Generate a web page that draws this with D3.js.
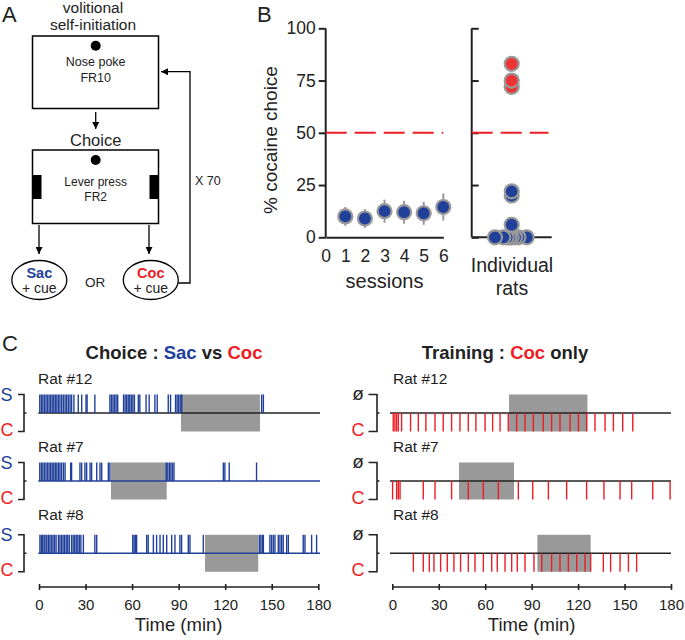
<!DOCTYPE html>
<html><head><meta charset="utf-8">
<script src="https://cdn.jsdelivr.net/npm/d3@7"></script>
<style>body{margin:0;background:#fff}svg{display:block;font-family:"Liberation Sans",Arial,sans-serif}</style>
</head><body><svg id="c" width="685" height="640"></svg>
<script>
// ---------- DATA ----------
const sessions = [1, 2, 3, 4, 5, 6];
const sessionTicks = [0, 1, 2, 3, 4, 5, 6];
const sessionMean = [10, 9, 12.5, 12, 11.5, 14.5];
const sessionErr = [4.5, 4.5, 5.5, 5.5, 5.5, 6.5];
const yTicks = [0, 25, 50, 75, 100];
const ratValues = [83, 75, 72, 22, 20, 6, 0, 0, 0, 0, 0, 0, 0, 0];
const ratJitter = [0, 0, 0, 0, 0, 0, -1, -0.5, -0.3, -0.14, 0, 0.2, 0.4, 0.9];
const threshold = 50;
const timeTicks = [0, 30, 60, 90, 120, 150, 180];

const choiceRats = ["Rat #12", "Rat #7", "Rat #8"];
const choiceRat12 = [0.5,1.5,2.5,3.5,4.5,5.5,6.5,7.5,8.5,9.5,10.5,11.5,12.5,13.5,14.6,15.7,16.8,17.8,18.9,20,21,22.5,25.3,27.5,30.3,31,36,45.7,46.7,47.7,48.7,49.7,50.7,54.5,55.5,56.5,57.5,58.5,59.5,60.5,61.5,64,65,69,71,74.7,76.2,83.3,84.8,88,89,90,91,92,143.5,144.6];
const choiceRat7 = [0.5,1.5,2.5,3.5,4.5,5.5,6.5,7.5,8.5,9.5,10.5,11.5,12.5,13.5,14.5,15.7,16.8,20.4,21,26.4,27.5,29.6,30.7,32.9,33.9,37.2,39.3,40.4,44.7,45.7,82,83,84,85,86,87,118.8,119.8,122.6,140.2];
const choiceRat8 = [0.6,1.5,2.4,3.3,3.9,5,6,7,8,9,10,11,12.5,13.5,14.5,15.5,16.5,17.5,18.5,19.5,21,22,23,24,25,26,27,28.6,36,37.2,60.4,61.3,62.2,62.9,69.4,70.4,73.7,75.8,78,80.1,82.3,85.5,87.6,90.8,91.9,96.2,97.3,105.9,142,143,144,144.6,148.8,149.9,151,152.1,154.2,155.3,156.4,157.4,159.6,160.7,170.3,171.4,175.7,178.9];
const choiceBoxes = [[91.5, 142.4], [46.4, 82.3], [107, 141.3]];

const trainRat12 = [0.6,1.7,2.8,3.9,6,11.8,16.8,21.7,27.6,32.9,38.3,43.7,49.1,54,59.9,64.8,69.6,74.9,80.3,85.7,91.1,97.5,102.9,108.3,114.8,120.2,125.5,130.9,137.4,142.8,148.8,155.3];
const trainRat7 = [0.2,2.8,3.9,5,20,27.6,38.3,49.1,58.8,68.5,81.4,90.7,100.8,112.6,125.5,136.7,147.1,154.6,168.2,179.4];
const trainRat8 = [13.6,20,23.9,26.9,31.2,35.5,39.8,44.1,49.1,53.4,58.8,64.2,67.8,72.8,77.1,80.7,85.7,91.5,96.5,102.9,108.3,113.7,119.1,124.5,128.1,136.3,141,147.1,152.5,157.8];
const trainBoxes = [[75.4, 126], [43.1, 78.6], [93.7, 128.1]];

// ---------- STYLE ----------
const BLUE = "#21409a", RED = "#ee1c24", GRAY = "#999999", INK = "#222";
const FONT = "Liberation Sans, Arial, sans-serif";
const svg = d3.select("#c");
svg.append("rect").attr("width", 685).attr("height", 640).attr("fill", "#fff");

function txt(g, x, y, s, size, opts = {}) {
  return g.append("text").attr("x", x).attr("y", y).text(s)
    .attr("font-size", size).attr("fill", opts.fill || INK)
    .attr("text-anchor", opts.anchor || "middle")
    .attr("font-weight", opts.weight || "normal");
}
const defs = svg.append("defs");
defs.append("marker").attr("id", "ah").attr("viewBox", "0 0 10 10").attr("refX", 10).attr("refY", 5)
  .attr("markerWidth", 7).attr("markerHeight", 7).attr("markerUnits", "userSpaceOnUse").attr("orient", "auto")
  .append("path").attr("d", "M0,0 L10,5 L0,10 z").attr("fill", "#000");

// ---------- PANEL A ----------
const A = svg.append("g");
txt(A, 2, 22, "A", 22, {anchor: "start"});
txt(A, 93, 13, "volitional", 15.5);
txt(A, 93, 30, "self-initiation", 15.5);
A.append("rect").attr("x", 32.5).attr("y", 36).attr("width", 126).attr("height", 72.5).attr("fill", "none").attr("stroke", "#000").attr("stroke-width", 1.5);
A.append("circle").attr("cx", 95.7).attr("cy", 45.7).attr("r", 5).attr("fill", "#000");
txt(A, 95.7, 66, "Nose poke", 12.5);
txt(A, 95.7, 82, "FR10", 12.5);
A.append("line").attr("x1", 95.7).attr("x2", 95.7).attr("y1", 112).attr("y2", 129).attr("stroke", "#000").attr("stroke-width", 1.3).attr("marker-end", "url(#ah)");
txt(A, 95.7, 146, "Choice", 16.5);
A.append("rect").attr("x", 32.5).attr("y", 150).attr("width", 126).attr("height", 73.5).attr("fill", "none").attr("stroke", "#000").attr("stroke-width", 1.5);
A.append("circle").attr("cx", 95.7).attr("cy", 160).attr("r", 5).attr("fill", "#000");
A.append("rect").attr("x", 32.5).attr("y", 175).attr("width", 9).attr("height", 24).attr("fill", "#000");
A.append("rect").attr("x", 149.5).attr("y", 175).attr("width", 9).attr("height", 24).attr("fill", "#000");
txt(A, 95.7, 186, "Lever press", 12);
txt(A, 95.7, 201, "FR2", 12);
[39, 149].forEach(x => A.append("line").attr("x1", x).attr("x2", x).attr("y1", 225).attr("y2", 254)
  .attr("stroke", "#000").attr("stroke-width", 1.3).attr("marker-end", "url(#ah)"));
[[39.3, "Sac", BLUE], [150.8, "Coc", RED]].forEach(([cx, lab, col]) => {
  A.append("ellipse").attr("cx", cx).attr("cy", 280).attr("rx", 27.5).attr("ry", 19.5).attr("fill", "none").attr("stroke", "#000").attr("stroke-width", 1.3);
  txt(A, cx, 278, lab, 14.5, {fill: col, weight: "bold"});
  txt(A, cx, 293, "+ cue", 14);
});
txt(A, 95, 287, "OR", 13.5);
A.append("path").attr("d", "M178.3,283 H190 V71.7 H161").attr("fill", "none").attr("stroke", "#000").attr("stroke-width", 1.3).attr("marker-end", "url(#ah)");
txt(A, 195, 185, "X 70", 12.5, {anchor: "start"});

// ---------- PANEL B ----------
const B = svg.append("g");
txt(B, 257, 22, "B", 22, {anchor: "start"});
const yB = d3.scaleLinear().domain([0, 100]).range([237.3, 28.3]);
const xS = d3.scaleLinear().domain([0, 6]).range([325.7, 443.3]);
const xR = d3.scaleLinear().domain([-1, 1]).range([495, 528.4]);

const axL = B.append("g").attr("transform", "translate(325.7,0)").call(d3.axisLeft(yB).tickValues(yTicks).tickSize(7).tickPadding(3));
axL.selectAll("text").attr("font-size", 17.5).attr("fill", INK).attr("font-family", FONT);
const axB = B.append("g").attr("transform", "translate(0,237.3)").call(d3.axisBottom(xS).tickValues(sessionTicks).tickFormat(d3.format("d")).tickSize(0).tickPadding(12));
axB.selectAll("text").attr("font-size", 17.5).attr("fill", INK).attr("font-family", FONT);
const axR = B.append("g").attr("transform", "translate(471.7,0)").call(d3.axisRight(yB).tickValues(yTicks).tickSize(7).tickFormat(""));
B.append("line").attr("x1", 471.7).attr("x2", 551.7).attr("y1", 237.3).attr("y2", 237.3).attr("stroke", INK).attr("stroke-width", 2);
[axL, axB, axR].forEach(a => { a.select(".domain").attr("stroke", INK).attr("stroke-width", 2); a.selectAll(".tick line").attr("stroke", INK).attr("stroke-width", 2); });
axR.select(".domain").attr("d", "M0,28.3V237.3");
axL.select(".domain").attr("d", "M0,28.3V237.3");

B.append("line").attr("x1", xS(0)).attr("x2", xS(6)).attr("y1", yB(threshold)).attr("y2", yB(threshold))
  .attr("stroke", RED).attr("stroke-width", 2).attr("stroke-dasharray", "21,8");
B.append("line").attr("x1", 471.7).attr("x2", 548.5).attr("y1", yB(threshold)).attr("y2", yB(threshold))
  .attr("stroke", RED).attr("stroke-width", 2).attr("stroke-dasharray", "21,8");

B.selectAll(".err").data(sessions).join("line").attr("x1", d => xS(d)).attr("x2", d => xS(d))
  .attr("y1", (d, i) => yB(sessionMean[i] + sessionErr[i])).attr("y2", (d, i) => yB(sessionMean[i] - sessionErr[i]))
  .attr("stroke", GRAY).attr("stroke-width", 2);
B.selectAll(".pt").data(sessions).join("circle").attr("cx", d => xS(d)).attr("cy", (d, i) => yB(sessionMean[i]))
  .attr("r", 7).attr("fill", BLUE).attr("stroke", GRAY).attr("stroke-width", 2.2);
B.selectAll(".rat").data(ratValues.map((v, i) => ({v, j: ratJitter[i]})).reverse()).join("circle")
  .attr("cx", d => xR(d.j)).attr("cy", d => yB(d.v)).attr("r", 7)
  .attr("fill", d => d.v > threshold ? "#ee3333" : BLUE).attr("stroke", GRAY).attr("stroke-width", 2.2);

B.append("text").attr("transform", "translate(277,140) rotate(-90)").attr("text-anchor", "middle").attr("font-size", 19).attr("fill", INK).text("% cocaine choice");
txt(B, 384.5, 288, "sessions", 20);
txt(B, 512, 272, "Individual", 19.5);
txt(B, 512, 295, "rats", 19.5);

// ---------- PANEL C ----------
const C = svg.append("g");
txt(C, 2, 351, "C", 22, {anchor: "start"});
const t1 = C.append("text").attr("x", 174).attr("y", 359).attr("text-anchor", "middle").attr("font-size", 18.5).attr("font-weight", "bold").attr("fill", INK);
t1.append("tspan").text("Choice : ");
t1.append("tspan").attr("fill", BLUE).text("Sac");
t1.append("tspan").text(" vs ");
t1.append("tspan").attr("fill", RED).text("Coc");
const t2 = C.append("text").attr("x", 505).attr("y", 359).attr("text-anchor", "middle").attr("font-size", 18.5).attr("font-weight", "bold").attr("fill", INK);
t2.append("tspan").text("Training : ");
t2.append("tspan").attr("fill", RED).text("Coc");
t2.append("tspan").text(" only");

const xL = d3.scaleLinear().domain([0, 180]).range([39, 318.3]);
const xRt = d3.scaleLinear().domain([0, 180]).range([392.3, 671]);
const baselines = [413, 481, 553.3];
const ratLabelY = [384, 452, 520];
const choiceEvents = [choiceRat12, choiceRat7, choiceRat8];
const trainEvents = [trainRat12, trainRat7, trainRat8];
const baseColL = [INK, BLUE, BLUE];

baselines.forEach((b, i) => {
  const yr = d3.scaleLinear().domain([-1, 1]).range([b + 18.5, b - 18.5]); // +1 = top (S / ø), -1 = bottom (C)
  // left
  txt(C, 38, ratLabelY[i], choiceRats[i], 15.5, {anchor: "start"});
  C.append("rect").attr("x", xL(choiceBoxes[i][0])).attr("width", xL(choiceBoxes[i][1]) - xL(choiceBoxes[i][0]))
    .attr("y", yr(1)).attr("height", yr(-1) - yr(1)).attr("fill", GRAY);
  C.append("line").attr("x1", 38.3).attr("x2", 320).attr("y1", yr(0)).attr("y2", yr(0)).attr("stroke", baseColL[i]).attr("stroke-width", 1.6);
  C.append("g").selectAll("line").data(choiceEvents[i]).join("line")
    .attr("x1", d => xL(d)).attr("x2", d => xL(d)).attr("y1", yr(0)).attr("y2", yr(1))
    .attr("stroke", BLUE).attr("stroke-width", 1.4);
  C.append("path").attr("d", `M18,${yr(1)}H24V${yr(-1)}H18M24,${yr(0)}H26.5`).attr("fill", "none").attr("stroke", INK).attr("stroke-width", 1.6);
  txt(C, 6.5, yr(1) + 6, "S", 18, {fill: BLUE});
  txt(C, 7, yr(-1) + 4, "C", 18, {fill: RED});
  // right
  txt(C, 393, ratLabelY[i], choiceRats[i], 15.5, {anchor: "start"});
  C.append("rect").attr("x", xRt(trainBoxes[i][0])).attr("width", xRt(trainBoxes[i][1]) - xRt(trainBoxes[i][0]))
    .attr("y", yr(1)).attr("height", yr(-1) - yr(1)).attr("fill", GRAY);
  C.append("line").attr("x1", 390).attr("x2", 671).attr("y1", yr(0)).attr("y2", yr(0)).attr("stroke", INK).attr("stroke-width", 1.6);
  C.append("g").selectAll("line").data(trainEvents[i]).join("line")
    .attr("x1", d => xRt(d)).attr("x2", d => xRt(d)).attr("y1", yr(0)).attr("y2", yr(-1))
    .attr("stroke", RED).attr("stroke-width", 1.4);
  C.append("path").attr("d", `M368.5,${yr(1)}H377V${yr(-1)}H368.5M377,${yr(0)}H379.5`).attr("fill", "none").attr("stroke", INK).attr("stroke-width", 1.6);
  txt(C, 358, yr(1) + 5, "ø", 19, {fill: INK});
  txt(C, 358, yr(-1) + 4, "C", 18, {fill: RED});
});

[[xL, 587], [xRt, 587]].forEach(([sc, y]) => {
  const ax = C.append("g").attr("transform", `translate(0,${y})`).call(d3.axisBottom(sc).tickValues(timeTicks).tickSize(4).tickPadding(8));
  ax.select(".domain").attr("stroke", INK).attr("stroke-width", 1.6).attr("d", `M${sc.range()[0]},0H${sc.range()[1]}`);
  ax.selectAll(".tick line").attr("stroke", INK).attr("stroke-width", 1.6).attr("y1", -3).attr("y2", 3);
  ax.selectAll("text").attr("font-size", 15).attr("fill", INK).attr("font-family", FONT);
  txt(C, (sc.range()[0] + sc.range()[1]) / 2, 631, "Time (min)", 18.5);
});
</script></body></html>
